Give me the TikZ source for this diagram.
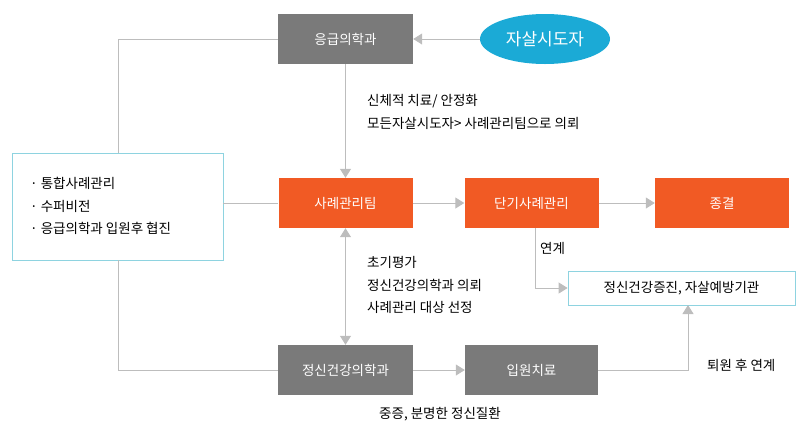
\documentclass[tikz,border=0pt]{standalone}
\usepackage{fontspec}
\newfontfamily\kr{Noto Sans CJK KR}
\usetikzlibrary{arrows.meta,shapes.geometric}
\definecolor{gbox}{HTML}{7A7A7A}
\definecolor{obox}{HTML}{F15A24}
\definecolor{cy}{HTML}{1BAAD6}
\definecolor{ln}{HTML}{BDBDBD}
\definecolor{lb}{HTML}{8ED3E0}
\begin{document}
\begin{tikzpicture}[x=1pt,y=-1pt,font=\kr\fontsize{13.5}{16}\selectfont,
 gray/.style={fill=gbox,text=white,minimum width=135pt,minimum height=50pt,inner sep=0pt},
 orng/.style={fill=obox,text=white,minimum width=134pt,minimum height=50pt,inner sep=0pt},
 con/.style={draw=ln,line width=1pt},
 arr/.style={con,-{Triangle[length=9pt,width=11pt,fill=ln]}},
 lab/.style={anchor=west,text=black,inner sep=0pt}]
\useasboundingbox (0,0) rectangle (812,432);
\node[gray] (er) at (345.5,39) {응급의학과};
\node[ellipse,fill=cy,text=white,minimum width=130pt,minimum height=50pt,font=\kr\fontsize{17}{20}\selectfont] (sa) at (545,39) {자살시도자};
\node[draw=lb,line width=0.8pt,minimum width=211pt,minimum height=107pt] (lb) at (117.5,206.5) {};
\node[lab] at (30,183) {· 통합사례관리};
\node[lab] at (30,206) {· 수퍼비전};
\node[lab] at (30,228) {· 응급의학과 입원후 협진};
\node[orng] (cm) at (345.5,203) {사례관리팀};
\node[orng] (sc) at (531.5,203) {단기사례관리};
\node[orng] (en) at (722,203) {종결};
\node[gray] (ps) at (345.5,370) {정신건강의학과};
\node[gray,minimum width=133pt] (ad) at (531.5,370) {입원치료};
\node[draw=lb,line width=0.8pt,minimum width=227pt,minimum height=34pt] (ag) at (681.5,288) {정신건강증진, 자살예방기관};
\node[lab] at (367,101) {신체적 치료/ 안정화};
\node[lab] at (367,123) {모든자살시도자> 사례관리팀으로 의뢰};
\node[lab] at (367,262) {초기평가};
\node[lab] at (367,285) {정신건강의학과 의뢰};
\node[lab] at (367,307) {사례관리 대상 선정};
\node at (440,414) {중증, 분명한 정신질환};
\node[lab] at (540,248) {연계};
\node[lab] at (707,365) {퇴원 후 연계};
\coordinate (c1) at (118,39);
\coordinate (c2) at (118,370);
\draw[arr] (sa) -- (er);
\draw[con] (er.west) -- (c1) -- (lb.north -| c1);
\draw[con] (lb.south -| c2) -- (c2) -- (ps.west);
\draw[con] (lb.east |- cm) -- (cm.west);
\draw[arr] (er) -- (cm);
\draw[con,{Triangle[length=9pt,width=11pt,fill=ln]}-{Triangle[length=9pt,width=11pt,fill=ln]}] (cm) -- (ps);
\draw[arr] (cm) -- (sc);
\draw[arr] (sc) -- (en);
\draw[arr] (ps) -- (ad);
\draw[arr] (535,228) |- (ag.west);
\draw[arr] (ad.east) -| (688,305);
\end{tikzpicture}
\end{document}
